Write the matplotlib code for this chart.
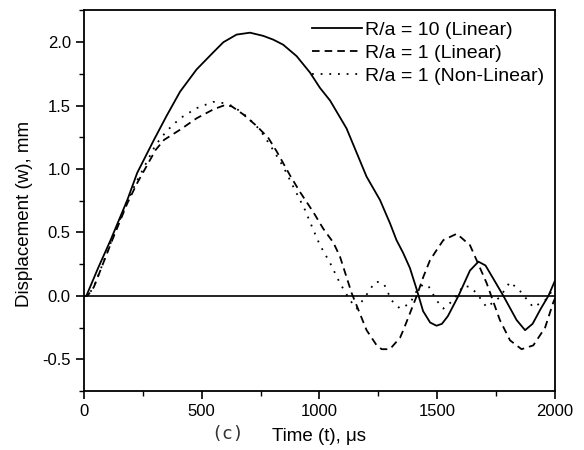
import numpy as np
import matplotlib.pyplot as plt
from matplotlib.ticker import MultipleLocator

# R/a = 10 (Linear)
t_r10 = [0, 10, 60, 113, 184, 226, 297, 351, 408, 478, 549, 592, 648, 705, 761,
         804, 846, 903, 960, 1002, 1045, 1115, 1200, 1257, 1300, 1327, 1355, 1384,
         1413, 1440, 1470, 1497, 1520, 1545, 1590, 1639, 1675, 1705, 1740, 1781,
         1837, 1873, 1905, 1940, 1972, 2000]
w_r10 = [0, 0, 0.22, 0.44, 0.756, 0.97, 1.23, 1.42, 1.61, 1.785, 1.92, 2.0, 2.06,
         2.075, 2.05, 2.02, 1.98, 1.89, 1.76, 1.64, 1.54, 1.32, 0.94, 0.756, 0.57,
         0.44, 0.34, 0.22, 0.05, -0.12, -0.21, -0.235, -0.22, -0.16, 0.0, 0.20,
         0.27, 0.24, 0.13, 0.0, -0.19, -0.27, -0.22, -0.1, 0.0, 0.12]

# R/a = 1 (Linear)
t_r1 = [0, 15, 42, 120, 184, 226, 304, 340, 408, 478, 549, 592, 627, 677, 733,
        783, 818, 875, 917, 974, 1016, 1059, 1087, 1137, 1200, 1243, 1264, 1299,
        1342, 1356, 1413, 1441, 1469, 1497, 1526, 1583, 1639, 1670, 1710, 1766,
        1809, 1858, 1908, 1958, 1993, 2000]
w_r1 = [0, 0, 0.07, 0.44, 0.73, 0.89, 1.15, 1.23, 1.31, 1.40, 1.47, 1.50, 1.495,
        1.43, 1.34, 1.245, 1.14, 0.95, 0.82, 0.66, 0.53, 0.42, 0.31, 0.02, -0.27,
        -0.39, -0.42, -0.42, -0.33, -0.27, 0.0, 0.15, 0.28, 0.36, 0.44, 0.49, 0.40,
        0.27, 0.10, -0.19, -0.35, -0.42, -0.39, -0.25, -0.05, -0.02]

# R/a = 1 (Non-Linear)
t_nl = [0, 15, 42, 120, 184, 226, 304, 351, 408, 478, 549, 592, 634, 691, 747,
        790, 846, 889, 938, 974, 1002, 1045, 1087, 1130, 1158, 1193, 1236, 1257,
        1275, 1306, 1342, 1384, 1413, 1440, 1462, 1497, 1526, 1568, 1611, 1640,
        1668, 1710, 1766, 1809, 1851, 1908, 1958, 2000]
w_nl = [0, 0, 0.07, 0.45, 0.75, 0.91, 1.19, 1.30, 1.40, 1.48, 1.53, 1.52, 1.495,
        1.415, 1.31, 1.19, 1.02, 0.86, 0.68, 0.52, 0.40, 0.26, 0.10, -0.035,
        -0.10, -0.01, 0.11, 0.11, 0.09, -0.035, -0.10, -0.06, 0.04, 0.09, 0.08,
        -0.035, -0.10, -0.035, 0.08, 0.07, 0.02, -0.09, -0.01, 0.11, 0.04, -0.09,
        -0.035, 0.07]

plt.rcParams['font.family'] = ['Liberation Sans', 'DejaVu Sans']
plt.rcParams['axes.unicode_minus'] = False

fig = plt.figure(figsize=(5.84, 4.5), dpi=100)
ax = fig.add_axes([0.1438, 0.131, 0.8065, 0.8457])

ax.plot(t_r10, w_r10, color='black', lw=1.3, label='R/a = 10 (Linear)')
ax.plot(t_r1, w_r1, color='black', lw=1.3, dashes=(4.2, 2.8), label='R/a = 1 (Linear)')
ax.plot(t_nl, w_nl, color='black', lw=1.3, dashes=(1, 3.8), label='R/a = 1 (Non-Linear)')
ax.axhline(0, color='black', lw=1.2)

ax.set_xlim(0, 2000)
ax.set_ylim(-0.75, 2.25)
ax.xaxis.set_major_locator(MultipleLocator(500))
ax.xaxis.set_minor_locator(MultipleLocator(250))
ax.yaxis.set_major_locator(MultipleLocator(0.5))
ax.yaxis.set_minor_locator(MultipleLocator(0.25))
ax.tick_params(which='major', direction='out', length=6, width=1.2, labelsize=12)
ax.tick_params(which='minor', direction='out', length=3.5, width=1.0)
for s in ax.spines.values():
    s.set_linewidth(1.3)

ax.set_ylabel('Displacement (w), mm', fontsize=13.5)
ax.yaxis.set_label_coords(-0.108, 0.466)
ax.set_xlabel('Time (t), μs', fontsize=13.5, labelpad=6)
fig.text(0.389, 0.025, '(c)', fontsize=13, family=['DejaVu Sans Mono'], ha='center',
         color='#333333')

ax.legend(loc='upper right', frameon=False, handlelength=2.6, handletextpad=0.15,
          borderaxespad=0.2, borderpad=0.35, labelspacing=0.28, fontsize=14)

fig.savefig('out.png', dpi=100)
